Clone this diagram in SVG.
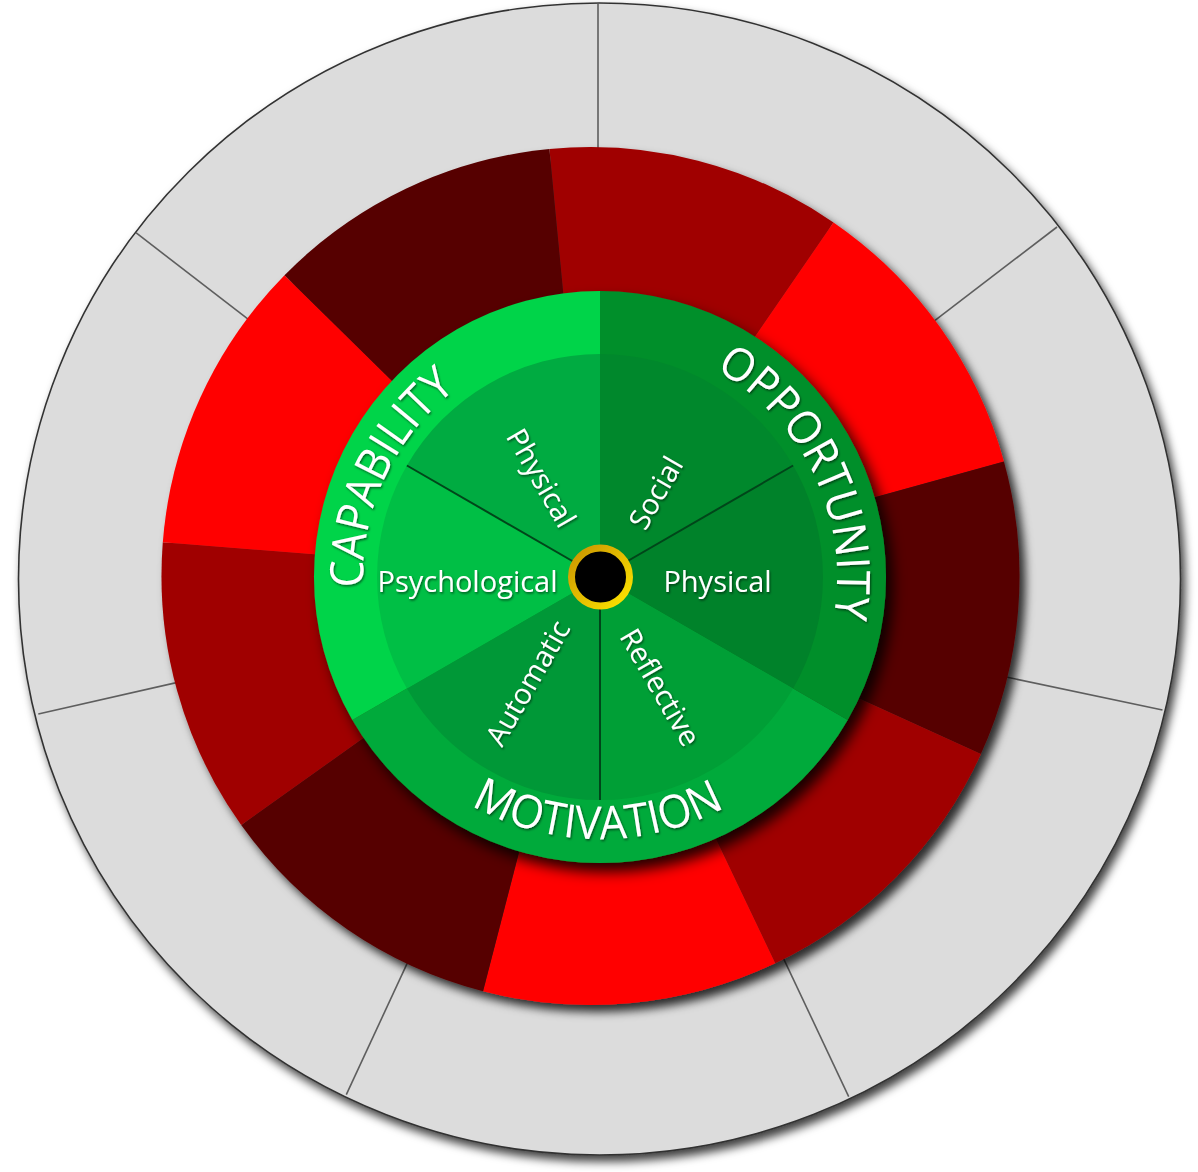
<svg xmlns="http://www.w3.org/2000/svg" width="1198" height="1172" viewBox="0 0 1198 1172">
<defs>
<style>
.r1{fill:#a00000}.r2{fill:#ff0000}.r3{fill:#560000}
.div{stroke:#5e5e5e;stroke-width:1.6;fill:none}
.spoke{stroke:#00461a;stroke-width:2;fill:none}
.lbl{font-family:"Open Sans","DejaVu Sans",sans-serif;fill:#ffffff}
.inner{font-size:29px}
.outer{font-size:46px}
</style>
<filter id="sh1" x="-5%" y="-5%" width="112%" height="112%"><feDropShadow dx="4" dy="6" stdDeviation="5" flood-color="#000" flood-opacity="0.75"/></filter>
<filter id="sh2" x="-8%" y="-8%" width="118%" height="118%"><feDropShadow dx="6" dy="7" stdDeviation="5" flood-color="#000" flood-opacity="0.8"/></filter>
<filter id="sh3" x="-10%" y="-10%" width="125%" height="125%"><feDropShadow dx="7" dy="9" stdDeviation="7" flood-color="#000" flood-opacity="0.85"/></filter>
<filter id="tsh" x="-10%" y="-20%" width="120%" height="150%"><feDropShadow dx="1" dy="1.5" stdDeviation="0.8" flood-color="#000" flood-opacity="0.55"/></filter>
<linearGradient id="gold" x1="0" y1="0" x2="1" y2="1"><stop offset="0" stop-color="#c99400"/><stop offset="1" stop-color="#ffe600"/></linearGradient>
<path id="arcCap" d="M481.5 782.2 A237 237 0 0 1 681.1 354.3"/>
<path id="arcOpp" d="M517 355 A237 237 0 0 1 720.3 781.2"/>
<path id="arcMot" d="M338.8 597.6 A262 262 0 0 0 860.8 602.1"/>
</defs>
<rect width="1198" height="1172" fill="#ffffff"/>

<g id="policy-ring">
<ellipse cx="599.5" cy="579" rx="581" ry="576" fill="#dcdcdc" stroke="#333" stroke-width="1.6" filter="url(#sh1)"/>
</g>

<g id="connectors">
<g id="policy-dividers">
<line class="div" x1="598" y1="4" x2="598" y2="180"/>
<line class="div" x1="1057" y1="227" x2="914.8" y2="335.8"/>
<line class="div" x1="1162.5" y1="710" x2="979.7" y2="671.4"/>
<line class="div" x1="848.7" y1="1096.6" x2="772.7" y2="935.6"/>
<line class="div" x1="346.3" y1="1094.7" x2="418.3" y2="939.3"/>
<line class="div" x1="38.3" y1="714" x2="199.5" y2="677.4"/>
<line class="div" x1="135.9" y1="232.7" x2="268.8" y2="335.2"/>
</g>
</g>

<g id="intervention-ring" filter="url(#sh2)">
<path class="r1" d="M590.5 576 L549.4 149 A429 429 0 0 1 833.5 222.4 Z"/>
<path class="r2" d="M590.5 576 L833.5 222.4 A429 429 0 0 1 1003.9 461.4 Z"/>
<path class="r3" d="M590.5 576 L1003.9 461.4 A429 429 0 0 1 980.9 753.9 Z"/>
<path class="r1" d="M590.5 576 L980.9 753.9 A429 429 0 0 1 775.2 963.2 Z"/>
<path class="r2" d="M590.5 576 L775.2 963.2 A429 429 0 0 1 483.1 991.3 Z"/>
<path class="r3" d="M590.5 576 L483.1 991.3 A429 429 0 0 1 241.2 825.1 Z"/>
<path class="r1" d="M590.5 576 L241.2 825.1 A429 429 0 0 1 162.8 542.3 Z"/>
<path class="r2" d="M590.5 576 L162.8 542.3 A429 429 0 0 1 284.5 275.3 Z"/>
<path class="r3" d="M590.5 576 L284.5 275.3 A429 429 0 0 1 549.4 149 Z"/>
</g>

<g id="comb-wheel">
<g filter="url(#sh3)">
<g id="opportunity"><path d="M600 577 L600 291 A286 286 0 0 1 847.7 720 Z" fill="#008f2c"/></g>
<g id="motivation"><path d="M600 577 L847.7 720 A286 286 0 0 1 352.3 720 Z" fill="#00aa3a"/></g>
<g id="capability"><path d="M600 577 L352.3 720 A286 286 0 0 1 600 291 Z" fill="#00d448"/></g>
</g>
<g id="social"><path d="M600 577 L600 354 A223 223 0 0 1 793.1 465.5 Z" fill="#00882c"/></g>
<g id="opp-physical"><path d="M600 577 L793.1 465.5 A223 223 0 0 1 793.1 688.5 Z" fill="#00822a"/></g>
<g id="reflective"><path d="M600 577 L793.1 688.5 A223 223 0 0 1 600 800 Z" fill="#009f36"/></g>
<g id="automatic"><path d="M600 577 L600 800 A223 223 0 0 1 406.9 688.5 Z" fill="#009837"/></g>
<g id="psychological"><path d="M600 577 L406.9 688.5 A223 223 0 0 1 406.9 465.5 Z" fill="#00bf45"/></g>
<g id="cap-physical"><path d="M600 577 L406.9 465.5 A223 223 0 0 1 600 354 Z" fill="#00ab41"/></g>
</g>

<g id="spokes">
<line class="spoke" x1="600" y1="577" x2="793.1" y2="465.5"/>
<line class="spoke" x1="600" y1="577" x2="600" y2="800"/>
<line class="spoke" x1="600" y1="577" x2="406.9" y2="465.5"/>
</g>

<g id="behaviour">
<circle cx="600.5" cy="577" r="29" fill="#000" stroke="url(#gold)" stroke-width="7"/>
</g>

<g id="labels" class="lbl" filter="url(#tsh)">
<text class="outer"><textPath href="#arcCap" startOffset="50%" text-anchor="middle" textLength="228" lengthAdjust="spacingAndGlyphs">CAPABILITY</textPath></text>
<text class="outer"><textPath href="#arcOpp" startOffset="50%" text-anchor="middle" textLength="293" lengthAdjust="spacingAndGlyphs">OPPORTUNITY</textPath></text>
<text class="outer"><textPath href="#arcMot" startOffset="50%" text-anchor="middle" textLength="265" lengthAdjust="spacingAndGlyphs">MOTIVATION</textPath></text>
<text class="inner" x="467.5" y="592" text-anchor="middle">Psychological</text>
<text class="inner" x="717.5" y="592" text-anchor="middle">Physical</text>
<text class="inner" text-anchor="middle" transform="translate(541 478) rotate(60)" y="10">Physical</text>
<text class="inner" text-anchor="middle" transform="translate(656 493) rotate(-60)" y="10">Social</text>
<text class="inner" text-anchor="middle" transform="translate(528 683) rotate(-60)" y="10">Automatic</text>
<text class="inner" text-anchor="middle" transform="translate(660 687.5) rotate(60)" y="10">Reflective</text>
</g>
</svg>
